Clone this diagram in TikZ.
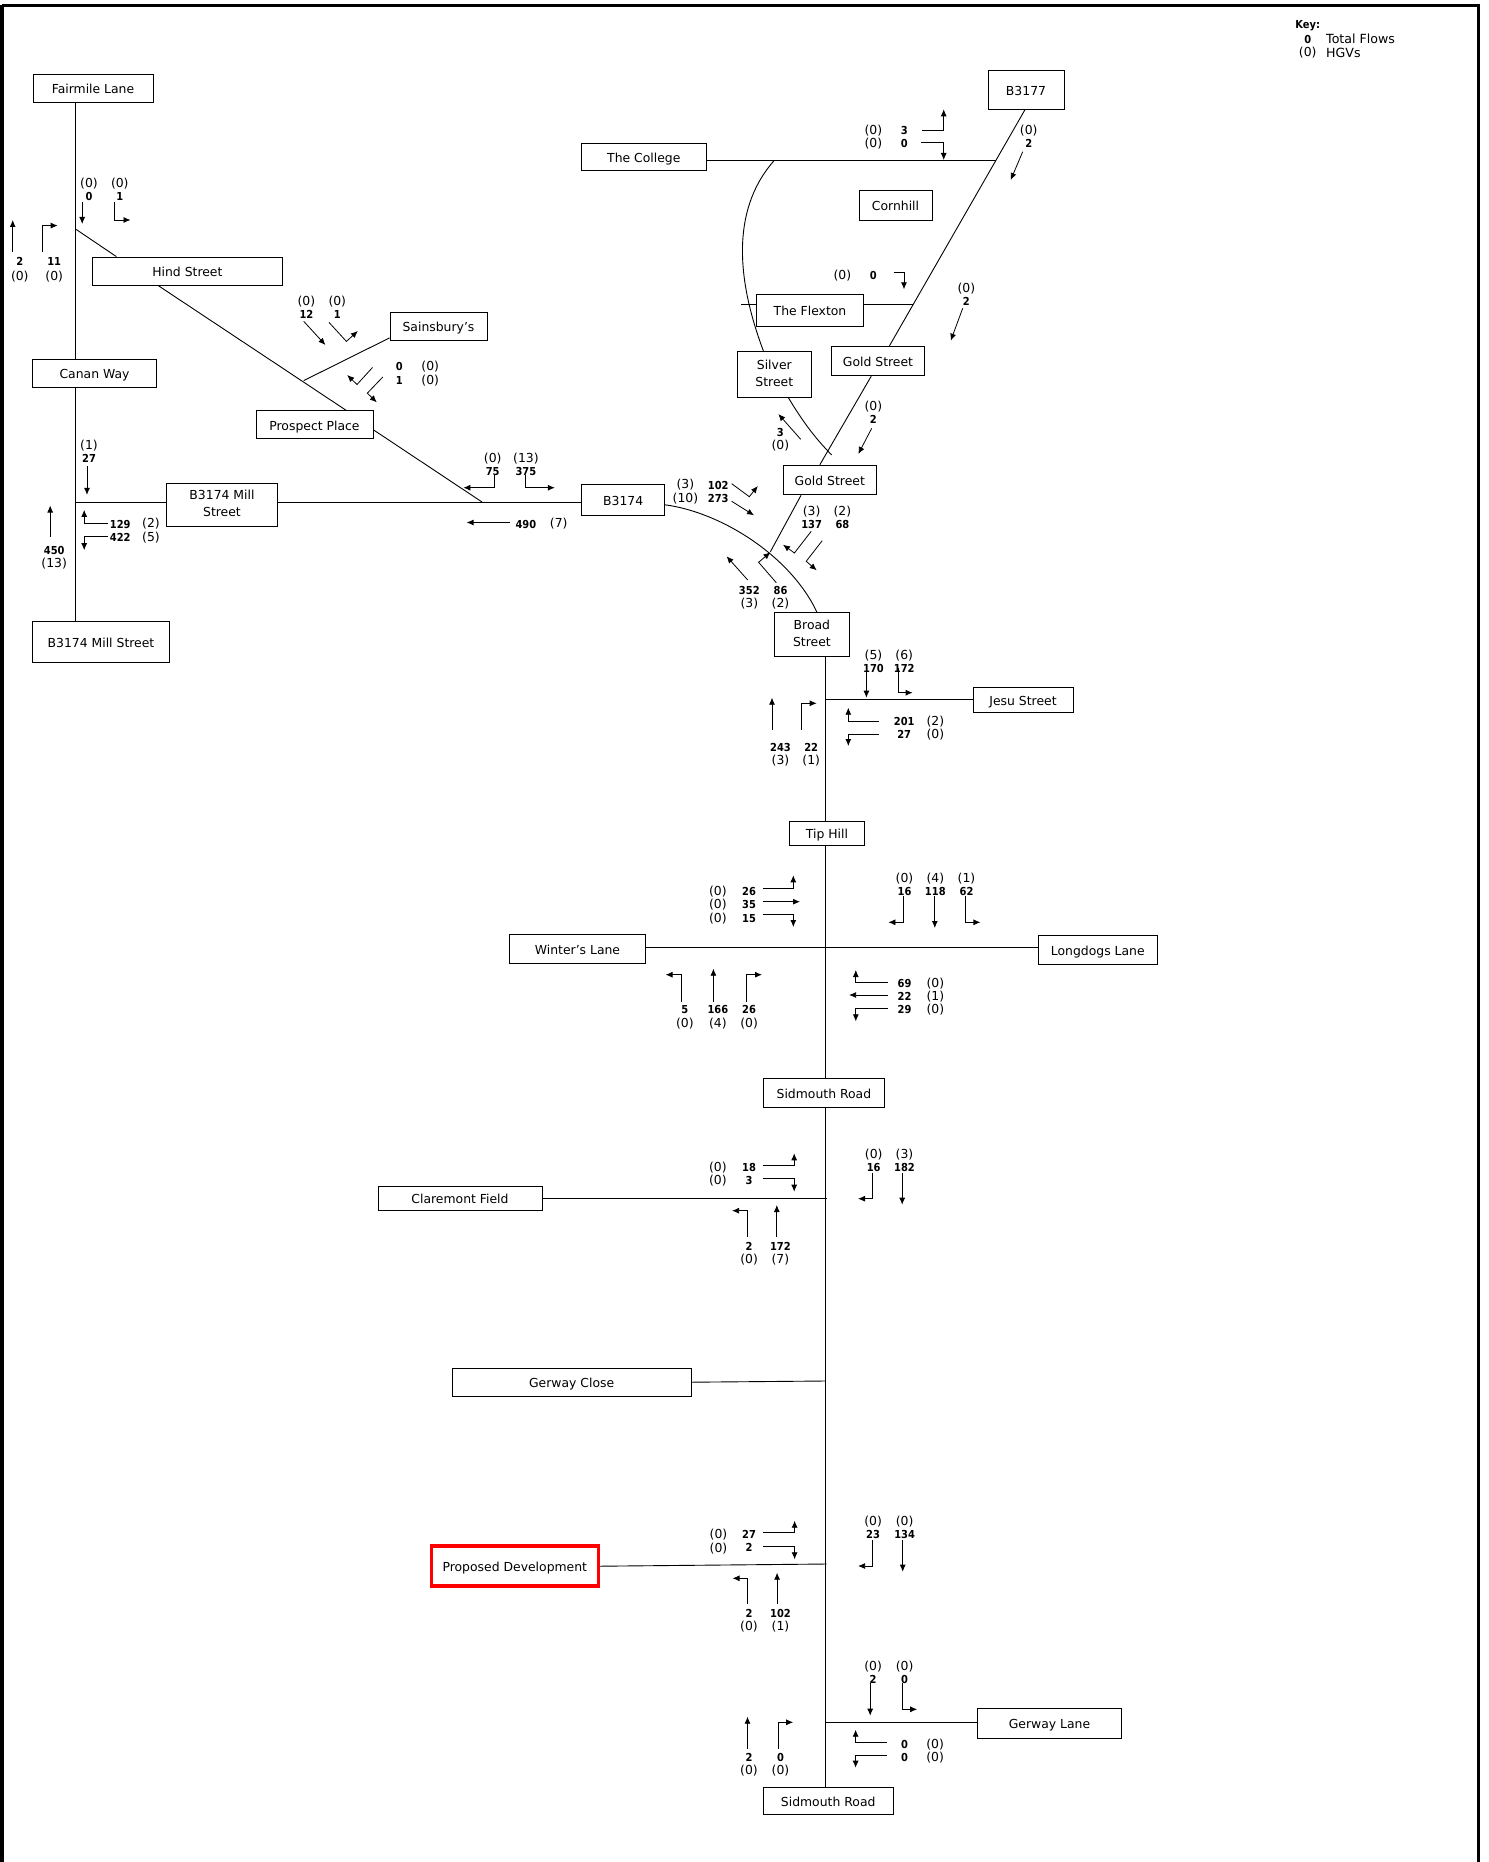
\documentclass[tikz,border=0pt]{standalone}
\usepackage{fontspec}
\setmainfont{DejaVu Sans}
\newfontfamily\numfont{DejaVu Sans Condensed}
\usetikzlibrary{arrows.meta}

\begin{document}
\begin{tikzpicture}[
    x=1pt, y=-1pt,
    roadbox/.style={draw, line width=0.9pt, inner sep=0pt, align=center, font=\fontsize{12.4}{17}\selectfont, fill=white,
                    execute at begin node={\rule[-2.8pt]{0pt}{16.2pt}}},
    road/.style={line width=0.9pt},
    arr/.style={line width=0.8pt, -{Latex[length=7pt, width=6pt]}},
    flowno/.style={inner sep=0pt, yshift=-0.8pt, font=\fontsize{11}{12}\selectfont\numfont\bfseries},
    hgvno/.style={inner sep=0pt, yshift=-0.8pt, font=\fontsize{12.4}{13}\selectfont},
    keytxt/.style={inner sep=0pt, anchor=west, yshift=-0.8pt, font=\fontsize{12.6}{13}\selectfont},
]
\useasboundingbox (0,0) rectangle (1488,1862);
\draw[line width=3.2pt] (2,5.5) -- (1478.5,5.5) -- (1478.5,1880);
\draw[line width=4pt] (2,5.5) -- (2,1880);

\node[roadbox, minimum width=120pt, minimum height=28pt] (fairmile) at (93,88) {Fairmile Lane};
\node[roadbox, minimum width=190pt, minimum height=28pt] (hind) at (187.4,271) {Hind Street};
\node[roadbox, minimum width=97pt, minimum height=28pt] (sainsburys) at (438.5,326.6) {Sainsbury's};
\node[roadbox, minimum width=124pt, minimum height=28pt] (canan) at (94.5,373) {Canan Way};
\node[roadbox, minimum width=117pt, minimum height=28pt] (prospect) at (314.5,424.7) {Prospect Place};
\node[roadbox, minimum width=111pt, minimum height=43.5pt] (millmid) at (222,505) {B3174 Mill\\Street};
\node[roadbox, minimum width=137.4pt, minimum height=41pt] (milllow) at (101,642) {B3174 Mill Street};
\node[roadbox, minimum width=83pt, minimum height=31.3pt] (bthree) at (623.2,499.7) {B3174};
\node[roadbox, minimum width=124.3pt, minimum height=27.3pt] (college) at (643.8,157.3) {The College};
\node[roadbox, minimum width=76pt, minimum height=38.6pt] (bfour) at (1026,90) {B3177};
\node[roadbox, minimum width=73pt, minimum height=30pt] (cornhill) at (895.5,205.3) {Cornhill};
\node[roadbox, minimum width=107.7pt, minimum height=32.4pt] (flexton) at (810,310.5) {The Flexton};
\node[roadbox, minimum width=73.3pt, minimum height=46pt] (silver) at (774.3,374.3) {Silver\\Street};
\node[roadbox, minimum width=93.7pt, minimum height=29.4pt] (goldtop) at (878,361) {Gold Street};
\node[roadbox, minimum width=93.5pt, minimum height=29.7pt] (goldlow) at (829.8,480) {Gold Street};
\node[roadbox, minimum width=75.3pt, minimum height=43.3pt] (broad) at (811.9,634.4) {Broad\\Street};
\node[roadbox, minimum width=100pt, minimum height=25pt] (jesu) at (1023,699.8) {Jesu Street};
\node[roadbox, minimum width=75.4pt, minimum height=24.5pt] (tiphill) at (827,833.3) {Tip Hill};
\node[roadbox, minimum width=136pt, minimum height=28.6pt] (winters) at (577.5,949) {Winter's Lane};
\node[roadbox, minimum width=119.6pt, minimum height=28.7pt] (longdogs) at (1097.8,949.7) {Longdogs Lane};
\node[roadbox, minimum width=121pt, minimum height=28.6pt] (sidmid) at (823.9,1093) {Sidmouth Road};
\node[roadbox, minimum width=164pt, minimum height=24.7pt] (claremont) at (460,1198.4) {Claremont Field};
\node[roadbox, minimum width=238.6pt, minimum height=28.5pt] (gerwayclose) at (571.7,1382.2) {Gerway Close};
\node[roadbox, draw=red, line width=3.5pt, minimum width=167pt, minimum height=40pt] (proposed) at (514.8,1566.2) {Proposed Development};
\node[roadbox, minimum width=144.5pt, minimum height=30pt] (gerwaylane) at (1049.5,1723) {Gerway Lane};
\node[roadbox, minimum width=129.5pt, minimum height=27.3pt] (sidlow) at (828.2,1800.7) {Sidmouth Road};

\coordinate (jhind) at (75.5,229);
\coordinate (jhindtop) at (116.3,257);
\coordinate (jhindlow) at (158,285);
\coordinate (jprospecttop) at (346,410);
\coordinate (jmill) at (75,502);
\coordinate (jprospect) at (482,502);
\coordinate (jsains) at (303.7,380.6);
\coordinate (jcurve) at (774,160.7);
\coordinate (jcollege) at (996,160.7);
\coordinate (jflexton) at (913.3,304.3);
\coordinate (jstub) at (741,304.3);
\coordinate (jsilverend) at (831.7,455);
\coordinate (jgoldend) at (770.4,551.7);
\coordinate (jjesu) at (825,699.3);
\coordinate (jwinter) at (825,947.8);
\coordinate (jclaremont) at (826.5,1198.3);
\coordinate (jgerwayclose) at (825,1381);
\coordinate (jproposed) at (826.5,1564);
\coordinate (jgerwaylane) at (825,1722.3);

\draw[road] (fairmile.south -| jhind) -- (jhind) -- (canan.north -| jhind);
\draw[road] (canan.south -| jmill) -- (milllow.north -| jmill);
\draw[road] (jhind) -- (hind.north -| jhindtop);
\draw[road] (hind.south -| jhindlow) -- (prospect.north -| jprospecttop);
\draw[road] (sainsburys.193.2) -- (jsains);
\draw[road] (prospect.355.2) -- (jprospect);
\draw[road] (jmill) -- (millmid.west |- jmill);
\draw[road] (millmid.east |- jmill) -- (bthree.west |- jmill);
\draw[road] (bthree.353.1) .. controls (720,512) and (790,555) .. (broad.77.5);
\draw[road] (college.east |- jcollege) -- (jcollege);
\draw[road] (bfour.267) -- (goldtop.53.2);
\draw[road] (goldtop.246.8) -- (goldlow.123.7);
\draw[road] (goldlow.208.3) -- (jgoldend);
\draw[road] (jcurve) .. controls (735,205) and (733,270) .. (silver.115.6);
\draw[road] (silver.301.3) .. controls (803,422) and (815,438) .. (jsilverend);
\draw[road] (jstub) -- (flexton.west |- jstub);
\draw[road] (flexton.east |- jflexton) -- (jflexton);
\draw[road] (broad.south -| jjesu) -- (tiphill.north -| jjesu);
\draw[road] (tiphill.south -| jjesu) -- (sidmid.north -| jjesu);
\draw[road] (sidmid.south -| jjesu) -- (sidlow.north -| jjesu);
\draw[road] (jjesu) -- (jesu.west |- jjesu);
\draw[road] (winters.east |- jwinter) -- (longdogs.west |- jwinter);
\draw[road] (claremont.east |- jclaremont) -- (jclaremont);
\draw[road] (gerwayclose.east) -- (jgerwayclose);
\draw[road] (proposed.east) -- (jproposed);
\draw[road] (jgerwaylane) -- (gerwaylane.west |- jgerwaylane);

\foreach \x/\y/\t [count=\i] in {
  89/195.5/0,119.8/195.5/1,19.8/260.8/2,54.2/260.8/11,306.4/313.7/12,337.3/313.7/1,
  399.4/366/0,399.4/379.8/1,89/457.7/27,120.2/523.3/129,120.2/536.8/422,54.2/549.8/450,
  492.7/471/75,525.9/471/375,525.9/523.3/490,
  904.3/130/3,904.3/143/0,1028.7/143/2,873.3/275/0,966.3/300.7/2,873.3/418.7/2,780.3/431.7/3,
  718.2/484.3/102,718.2/498/273,811.6/523.7/137,842.4/523.7/68,749.3/590/352,780.5/590/86,
  873.5/668/170,904.2/668/172,904.2/721/201,904.2/734/27,780.5/746.7/243,811.2/746.7/22,
  749.1/890.7/26,749.1/904/35,749.1/917.7/15,904.5/890.7/16,935.3/890.7/118,966.5/890.7/62,
  684.8/1008.7/5,717.9/1008.7/166,749.1/1008.7/26,904.5/982.7/69,904.5/995.7/22,904.5/1009/29,
  749.1/1166.7/18,749.1/1180/3,749.1/1245.7/2,780.4/1245.7/172,873.7/1166.7/16,904.5/1166.7/182,
  749/1533.7/27,749/1547/2,749/1612.7/2,780.5/1612.7/102,873.1/1533.7/23,904.6/1533.7/134,
  873.1/1678.7/2,904.6/1678.7/0,904.6/1743.7/0,904.6/1756.7/0,749/1756.7/2,780.5/1756.7/0,
  1307.7/38.3/0}{
  \node[flowno] (flow\i) at (\x,\y) {\t};
}

\foreach \x/\y/\t [count=\i] in {
  89/182.9/(0),119.8/182.9/(0),19.8/275.4/(0),54.2/275.4/(0),306.4/301/(0),337.3/301/(0),
  430.2/366/(0),430.2/379.8/(0),89/445/(1),151/523.3/(2),151/536.8/(5),54.2/562.9/(13),
  492.7/458/(0),525.9/458/(13),558.7/523.3/(7),
  873.3/130/(0),873.3/143/(0),1028.7/130/(0),842.3/275/(0),966.3/288/(0),873.3/406/(0),780.3/445/(0),
  685.4/484.3/(3),685.4/498/(10),811.6/511/(3),842.4/511/(2),749.3/603.3/(3),780.5/603.3/(2),
  873.5/655/(5),904.2/655/(6),935.4/721/(2),935.4/734/(0),780.5/760/(3),811.2/760/(1),
  717.9/890.7/(0),717.9/904/(0),717.9/917.7/(0),904.5/878/(0),935.3/878/(4),966.5/878/(1),
  684.8/1022.7/(0),717.9/1022.7/(4),749.1/1022.7/(0),935.3/982.7/(0),935.3/995.7/(1),935.3/1009/(0),
  717.9/1166.7/(0),717.9/1180/(0),749.1/1258.7/(0),780.4/1258.7/(7),873.7/1154/(0),904.5/1154/(3),
  718.5/1533.7/(0),718.5/1547.3/(0),749/1625.7/(0),780.5/1625.7/(1),873.1/1520.7/(0),904.6/1520.7/(0),
  873.1/1665.7/(0),904.6/1665.7/(0),935.1/1743.7/(0),935.1/1756.7/(0),749/1770/(0),780.5/1770/(0),
  1307.7/52/(0)}{
  \node[hgvno] (hgv\i) at (\x,\y) {\t};
}

\node[flowno] (keyhead) at (1307.7,25) {Key:};
\node[keytxt] (keyflows) at (1326,38.3) {Total Flows};
\node[keytxt] (keyhgvs) at (1326,52) {HGVs};

\foreach \xa/\ya/\xb/\yb [count=\i] in {
  82.2/202.2/82.2/224, 12.7/251.7/12.7/220, 303.7/321.3/325.4/345, 87/466/87/494.8,
  50.2/536.8/50.2/505.5, 510/522.5/466.6/522.5, 1022.7/151.7/1010.7/180,
  962.7/308.3/950.7/340.7, 871.7/428.3/858.3/454, 800.7/439.3/778.3/414,
  731.7/501.3/754/515.3, 747.7/580/726.6/556.3, 866.4/668/866.4/697.7, 772/729.7/772/697.7,
  762.5/901.7/800/901.7, 934.8/896/934.8/928, 713.4/1001.7/713.4/968.7, 887.5/995/849.1/995,
  776.8/1236.7/776.8/1205, 902.2/1172.7/902.2/1204.7, 777.1/1604.3/777.1/1572.7,
  902.7/1540/902.7/1571.7, 870.2/1683.3/870.2/1715.7, 747.5/1748.7/747.5/1716.7}{
  \coordinate (sa\i) at (\xa,\ya);
  \coordinate (sb\i) at (\xb,\yb);
  \draw[arr] (sa\i) -- (sb\i);
}

\foreach \xa/\ya/\xb/\yb/\xc/\yc [count=\i] in {
  114.3/202.2/114.3/220/130.5/220, 42.3/251.7/42.3/225.6/57.7/225.6,
  329/322.4/346.4/341.4/357.8/331, 372.5/367.5/357/384.5/347.2/375,
  382.8/377/367.3/393.2/376.8/402.3, 107.6/523.7/84.2/523.7/84.2/509.9,
  107.6/536.8/84.2/536.8/84.2/550.2, 494.7/475/494.7/487.7/463.4/487.7,
  525.1/475/525.1/487.7/554.8/487.7, 922/130/943.7/130/943.7/109.3,
  921.3/142.3/943.7/142.3/943.7/160, 893.7/272/904/272/904/289.3,
  731.7/483.7/749.3/496.7/757.8/486, 811.2/531.3/794.4/553/783/544.7,
  822.2/540.7/806.2/561.3/816.7/570.3, 776.3/582.7/758.6/562.3/770.4/552.3,
  897.9/668/897.9/692.7/912.6/692.7, 878.6/721/848.3/721/848.3/707.7,
  878.6/734/848.3/734/848.3/746, 801.5/729.7/801.5/703.3/816.7/703.3,
  762.5/888/793.3/888/793.3/875.3, 762.5/914/793.3/914/793.3/927,
  903.1/896/903.1/922.3/888.4/922.3, 965.6/896/965.6/922.3/980.4/922.3,
  681.3/1001.7/681.3/974.7/665.6/974.7, 746.4/1001.7/746.4/974.7/762/974.7,
  887.5/982.3/855.8/982.3/855.8/970, 887.5/1008.7/855.8/1008.7/855.8/1021.3,
  762.5/1165.3/794.2/1165.3/794.2/1153.3, 762.5/1178.3/794.2/1178.3/794.2/1191.7,
  746.9/1236.7/746.9/1210.7/732.1/1210.7, 872.8/1172.7/872.8/1198.7/858/1198.7,
  763/1532.7/794.6/1532.7/794.6/1520.7, 763/1546/794.6/1546/794.6/1559.3,
  747.1/1604.3/747.1/1578.3/732.5/1578.3, 872.6/1540/872.6/1566/858.1/1566,
  902.2/1683.3/902.2/1709.3/917.2/1709.3, 886.7/1742.3/855.6/1742.3/855.6/1729.7,
  886.7/1755.7/855.6/1755.7/855.6/1767.7, 778.1/1748.7/778.1/1722.3/793.1/1722.3}{
  \coordinate (ta\i) at (\xa,\ya);
  \coordinate (tb\i) at (\xb,\yb);
  \coordinate (tc\i) at (\xc,\yc);
  \draw[arr] (ta\i) -- (tb\i) -- (tc\i);
}

\end{tikzpicture}
\end{document}
